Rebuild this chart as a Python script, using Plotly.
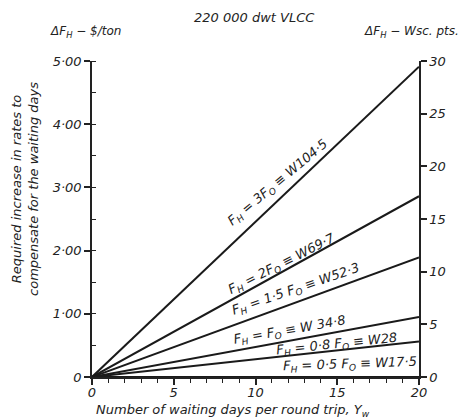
import plotly.graph_objects as go

# ---- data ----
waiting_days = [0, 20]
line_labels = [
    "F<sub>H</sub> = 3F<sub>O</sub> ≡ W104·5",
    "F<sub>H</sub> = 2F<sub>O</sub> ≡ W69·7",
    "F<sub>H</sub> = 1·5 F<sub>O</sub> ≡ W52·3",
    "F<sub>H</sub> = F<sub>O</sub> ≡ W 34·8",
    "F<sub>H</sub> = 0·8 F<sub>O</sub> ≡ W28",
    "F<sub>H</sub> = 0·5 F<sub>O</sub> ≡ W17·5",
]
increase_3F0 = [0, 4.91]
increase_2F0 = [0, 2.86]
increase_15F0 = [0, 1.89]
increase_1F0 = [0, 0.95]
increase_08F0 = [0, 0.56]
increase_05F0 = [0, 0.0]
series = [increase_3F0, increase_2F0, increase_15F0, increase_1F0, increase_08F0, increase_05F0]

# label placement (data coords) and angles
label_x = [11.4, 11.6, 12.5, 12.1, 15.0, 15.8]
label_y = [3.08, 1.78, 1.38, 0.74, 0.52, 0.20]
label_angle = [-40, -27, -19, -10, -6, -2]

left_tickvals = [0, 1, 2, 3, 4, 5]
left_ticktext = ["0", "1·00", "2·00", "3·00", "4·00", "5·00"]
right_tickvals = [0, 5, 10, 15, 20, 25, 30]
x_tickvals = [0, 5, 10, 15, 20]

FONT = "DejaVu Sans"
INK = "#222"


def f(size):
    return dict(family=FONT, style="italic", size=size, color=INK)


fig = go.Figure()
for vals in series:
    fig.add_trace(go.Scatter(x=waiting_days, y=vals, mode="lines",
                             line=dict(color="#1a1a1a", width=2),
                             showlegend=False, hoverinfo="skip"))
# invisible trace for right axis
fig.add_trace(go.Scatter(x=[0, 20], y=[0, 30], yaxis="y2", mode="lines",
                         line=dict(width=0), opacity=0, showlegend=False,
                         hoverinfo="skip"))

annotations = []
for txt, x, y, a in zip(line_labels, label_x, label_y, label_angle):
    annotations.append(dict(x=x, y=y, xref="x", yref="y", text=txt,
                            showarrow=False, textangle=a,
                            xanchor="center", yanchor="middle", font=f(13)))

annotations += [
    dict(x=0.498, y=1.139, xref="paper", yref="paper", text="220 000 dwt VLCC",
         xanchor="center", yanchor="middle", showarrow=False, font=f(13)),
    dict(x=-0.021, y=1.093, xref="paper", yref="paper", text="ΔF<sub>H</sub> − $/ton",
         xanchor="center", yanchor="middle", showarrow=False, font=f(12)),
    dict(x=0.976, y=1.093, xref="paper", yref="paper", text="ΔF<sub>H</sub> − Wsc. pts.",
         xanchor="center", yanchor="middle", showarrow=False, font=f(12)),
    dict(x=-0.205, y=0.595, xref="paper", yref="paper",
         text="Required increase in rates to<br>compensate for the waiting days",
         textangle=-90, xanchor="center", yanchor="middle", showarrow=False,
         font=f(13)),
    dict(x=0.43, y=-0.106, xref="paper", yref="paper",
         text="Number of waiting days per round trip, Y<sub>w</sub>",
         xanchor="center", yanchor="middle", showarrow=False, font=f(13)),
]

tickfont = f(13)

fig.update_layout(
    width=476, height=418,
    margin=dict(l=92, r=57, t=61, b=41),
    paper_bgcolor="white", plot_bgcolor="white",
    showlegend=False,
    annotations=annotations,
    xaxis=dict(range=[0, 20], tickvals=x_tickvals, ticks="outside", ticklen=6,
               tickwidth=1.5, tickcolor=INK, showline=True, linecolor=INK,
               linewidth=1.5, showgrid=False, zeroline=False, tickfont=f(13),
               ticklabelstandoff=-3,
               minor=dict(dtick=1, ticks="outside", ticklen=4, tickcolor=INK,
                          tickwidth=1.2)),
    yaxis=dict(range=[0, 5], tickvals=left_tickvals, ticktext=left_ticktext,
               ticks="outside", ticklen=6, tickwidth=1.5, tickcolor=INK,
               showline=True, linecolor=INK, linewidth=1.5, showgrid=False,
               zeroline=False, tickfont=tickfont,
               minor=dict(dtick=0.5, ticks="inside", ticklen=4, tickcolor=INK,
                          tickwidth=1.2)),
    yaxis2=dict(range=[0, 30], overlaying="y", side="right", tickvals=right_tickvals,
                ticks="outside", ticklen=6, tickwidth=1.5, tickcolor=INK,
                showline=True, linecolor=INK, linewidth=1.5, showgrid=False,
                zeroline=False, tickfont=tickfont),
)

fig.write_html("out.html")
